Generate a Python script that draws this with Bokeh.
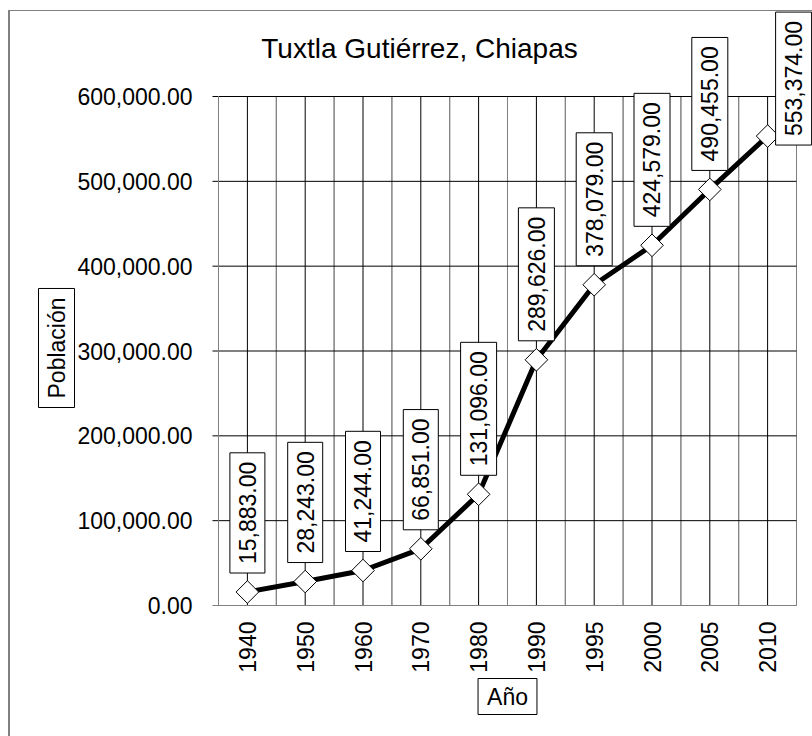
import math
from bokeh.plotting import figure
from bokeh.core.properties import value
from bokeh.models import (ColumnDataSource, FactorRange, Range1d, Label, LabelSet, Title,
                          NumeralTickFormatter, SingleIntervalTicker, InlineStyleSheet)
from bokeh.transform import dodge
from bokeh.embed import file_html
from bokeh.resources import INLINE

# ---- data ----
years = ["1940", "1950", "1960", "1970", "1980", "1990", "1995", "2000", "2005", "2010"]
population = [15883, 28243, 41244, 66851, 131096, 289626, 378079, 424579, 490455, 553374]
y_ticks = [0, 100000, 200000, 300000, 400000, 500000, 600000]
title_text = "Tuxtla Gutiérrez, Chiapas"
x_title = "Año"
y_title = "Población"

# ---- styling / layout (not data) ----
FONT = "Liberation Sans"
Y_MIN, Y_MAX = y_ticks[0], y_ticks[-1]
FRAME_TOP_GAP = 96          # px from canvas top to the 600,000 line
PLOT_H = 509                # px from 0 to 600,000
CAT_W = 57.8                # px per category
PAD = 16                    # px of frame on each side of the category band
TICK = 6                    # y tick length, px
label_dx = [0, 0, 0, 0, 0, 0, 0, 0, 0, 26]       # Excel pushed the last label to the right
label_dy = [19, 19, 19, 19, 19, 19, 19, 19, 19, -9]

labels = [f"{v:,.2f}" for v in population]
NBSP = "\u00a0"
def em_width(s):
    return sum(0.556 if c.isdigit() else 0.278 for c in s)
box_txt, box_size = [], []
for t in labels:
    n_sp = len(t) + 5
    box_txt.append(NBSP * n_sp)
    box_size.append(f"{(em_width(t) * 23 + 18) / (n_sp * 0.278):.2f}px")

src = ColumnDataSource(dict(year=years, pop=population, label=labels, box=box_txt,
                            box_size=box_size, dx=label_dx,
                            dy_box=label_dy, dy_txt=[d + 9 for d in label_dy]))
n = len(years)
hsrc = ColumnDataSource(dict(y=y_ticks, first=[years[0]] * len(y_ticks),
                             last=[years[-1]] * len(y_ticks)))

y_top = Y_MAX * (FRAME_TOP_GAP + PLOT_H) / PLOT_H
p = figure(width=812, height=736,
           x_range=FactorRange(*years, range_padding=PAD / CAT_W,
                               range_padding_units="absolute"),
           y_range=Range1d(Y_MIN, y_top), output_backend="svg", toolbar_location=None,
           min_border_left=218 - PAD, min_border_right=0, min_border_top=0,
           min_border_bottom=131)
p.title.visible = False
p.background_fill_color = "white"
p.border_fill_color = "white"
p.outline_line_color = None
p.xgrid.visible = False
p.ygrid.visible = False

# grid lines, limited to the plot area (horizontal ones start TICK px left = tick marks)
p.segment(x0=dodge("year", -0.5, range=p.x_range), x1=dodge("year", -0.5, range=p.x_range),
          y0=Y_MIN, y1=Y_MAX, source=src, line_color="#808080", line_width=1)
p.segment(x0=dodge("year", 0.5, range=p.x_range), x1=dodge("year", 0.5, range=p.x_range),
          y0=Y_MIN, y1=Y_MAX, source=src, line_color="#808080", line_width=1)
p.segment(x0="year", x1="year", y0=Y_MIN, y1=Y_MAX, source=src,
          line_color="black", line_width=1)
p.segment(x0=dodge("first", -0.5 - TICK / CAT_W, range=p.x_range),
          x1=dodge("last", 0.5, range=p.x_range),
          y0="y", y1="y", source=hsrc, line_color="black", line_width=1)
p.segment(x0=dodge("first", -0.5, range=p.x_range), x1=dodge("first", -0.5, range=p.x_range),
          y0=Y_MIN, y1=Y_MAX, source=hsrc, line_color="#808080", line_width=1)

# axes
p.yaxis.bounds = (Y_MIN, Y_MAX)
p.yaxis.ticker = SingleIntervalTicker(interval=100000, num_minor_ticks=0)
p.yaxis.formatter = NumeralTickFormatter(format="0,0.00")
p.yaxis.axis_line_color = None
p.yaxis.major_tick_line_color = None
p.yaxis.major_tick_out = 0
p.yaxis.major_tick_in = 0
p.yaxis.minor_tick_line_color = None
p.yaxis.major_label_standoff = PAD - TICK
p.xaxis.bounds = (0, n)
p.xaxis.axis_line_color = "#808080"
p.xaxis.major_tick_line_color = None
p.xaxis.major_tick_out = 0
p.xaxis.major_tick_in = 0
p.xaxis.major_label_orientation = math.pi / 2
p.xaxis.major_label_standoff = 16
for ax in (p.xaxis[0], p.yaxis[0]):
    ax.major_label_text_font = FONT
    ax.major_label_text_font_size = "23px"
    ax.major_label_text_color = "black"

# boxed axis titles
def boxed_title(text, **kw):
    t = Title(text=text, text_font=FONT, text_font_size="23px", text_font_style="normal",
              text_color="black", background_fill_color="white", border_line_color="black",
              border_line_width=1, **kw)
    try:
        t.padding = (9, 5)
    except Exception:
        pass
    return t

p.add_layout(boxed_title(y_title, align="left", offset=198, standoff=0), "left")
p.add_layout(boxed_title(x_title, align="center", vertical_align="top", standoff=6), "below")

# series
p.line(x="year", y="pop", source=src, line_color="black", line_width=5)
p.scatter(x="year", y="pop", source=src, marker="square", angle=math.pi / 4, size=16,
          fill_color="white", line_color="black", line_width=1)

# data labels: a boxed frame layer, then the value text on top
p.add_layout(LabelSet(x="year", y="pop", text="box", source=src, angle=math.pi / 2,
                      text_align="left", text_baseline="middle",
                      x_offset="dx", y_offset="dy_box",
                      text_font=value(FONT), text_font_size="box_size", text_alpha=0,
                      background_fill_color="white", border_line_color="black",
                      border_line_width=1))
p.add_layout(LabelSet(x="year", y="pop", text="label", source=src, angle=math.pi / 2,
                      text_align="left", text_baseline="middle",
                      x_offset="dx", y_offset="dy_txt",
                      text_font=value(FONT), text_font_size="23px", text_color="black"))

# chart title (screen units relative to the plot frame)
p.add_layout(Label(x=419 - (218 - PAD), y=FRAME_TOP_GAP + PLOT_H - 48,
                   x_units="screen", y_units="screen", text=title_text,
                   text_align="center", text_baseline="middle", text_font=FONT,
                   text_font_size="28px", text_color="black"))

# outer chart-area border (left and top edges visible)
p.stylesheets = [InlineStyleSheet(css=(
    ":host::after { content: ''; position: absolute; left: 8px; top: 10px; right: 0; bottom: 0;"
    " border-left: 2px solid #808080; border-top: 1px solid #808080; pointer-events: none; }"))]

open("out.html", "w").write(file_html(p, INLINE))
